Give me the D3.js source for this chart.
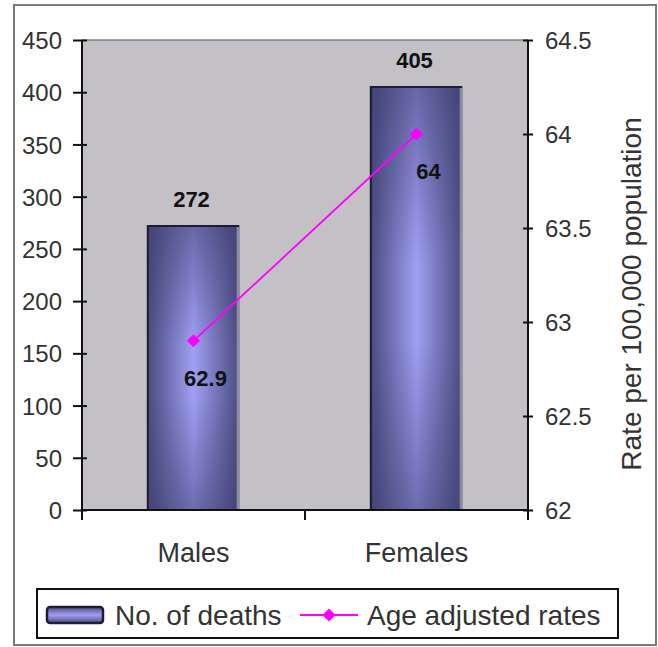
<!DOCTYPE html>
<html>
<head>
<meta charset="utf-8">
<script src="https://cdn.jsdelivr.net/npm/d3@7"></script>
<style>
  body { margin: 0; background: #fff; }
  text { font-family: "Liberation Sans", Arial, sans-serif; }
</style>
</head>
<body>
<script>
const categories = ['Males', 'Females'];
const deaths = [272, 405];
const rates = [62.9, 64];
const leftTicks = [0, 50, 100, 150, 200, 250, 300, 350, 400, 450];
const rightTicks = [62, 62.5, 63, 63.5, 64, 64.5];
const legendLabels = ['No. of deaths', 'Age adjusted rates'];

const w = 658, h = 647;
const plot = { left: 82, right: 528, top: 40, bottom: 510 };

const svg = d3.select('body').append('svg')
  .attr('width', w)
  .attr('height', h);

const defs = svg.append('defs');
const hg = defs.append('linearGradient').attr('id', 'barH')
  .attr('x1', 0).attr('x2', 1).attr('y1', 0).attr('y2', 0);
hg.append('stop').attr('offset', 0).attr('stop-color', '#4b4b80');
hg.append('stop').attr('offset', 0.5).attr('stop-color', '#a0a0f4');
hg.append('stop').attr('offset', 1).attr('stop-color', '#4b4b80');
const vg = defs.append('linearGradient').attr('id', 'barV')
  .attr('x1', 0).attr('x2', 0).attr('y1', 0).attr('y2', 1);
vg.append('stop').attr('offset', 0).attr('stop-color', '#3a3a6a').attr('stop-opacity', 0.55);
vg.append('stop').attr('offset', 0.42).attr('stop-color', '#3a3a6a').attr('stop-opacity', 0);
vg.append('stop').attr('offset', 0.6).attr('stop-color', '#3a3a6a').attr('stop-opacity', 0);
vg.append('stop').attr('offset', 1).attr('stop-color', '#3a3a6a').attr('stop-opacity', 0.5);

// outer frame
svg.append('rect')
  .attr('x', 14).attr('y', 5).attr('width', 642).attr('height', 640)
  .attr('fill', '#fff').attr('stroke', '#7a7a7a').attr('stroke-width', 2);

const x = d3.scaleBand()
  .domain(categories)
  .range([plot.left, plot.right])
  .paddingInner(0)
  .paddingOuter(0);

const barW = x.bandwidth() * 0.41;

const yL = d3.scaleLinear().domain([0, 450]).range([plot.bottom, plot.top]);
const yR = d3.scaleLinear().domain([62, 64.5]).range([plot.bottom, plot.top]);

// plot area
svg.append('rect')
  .attr('x', plot.left).attr('y', plot.top)
  .attr('width', plot.right - plot.left).attr('height', plot.bottom - plot.top)
  .attr('fill', '#c3c1c6');
svg.append('line')
  .attr('x1', plot.left).attr('x2', plot.right)
  .attr('y1', plot.top).attr('y2', plot.top)
  .attr('stroke', '#808080').attr('stroke-width', 1.5);

// bars
const bars = svg.selectAll('g.bar')
  .data(categories)
  .enter()
  .append('g')
  .attr('class', 'bar');

const bx = (d) => x(d) + (x.bandwidth() - barW) / 2;
const by = (d, i) => yL(deaths[i]);
const bh = (d, i) => yL(0) - yL(deaths[i]);

bars.append('rect')
  .attr('x', bx).attr('y', by).attr('width', barW).attr('height', bh)
  .attr('fill', 'url(#barH)');
bars.append('rect')
  .attr('x', bx).attr('y', by).attr('width', barW).attr('height', bh)
  .attr('fill', 'url(#barV)');
bars.append('line')
  .attr('x1', (d, i) => bx(d) + barW - 1).attr('x2', (d, i) => bx(d) + barW - 1)
  .attr('y1', by).attr('y2', yL(0))
  .attr('stroke', '#8c8ca4').attr('stroke-width', 3);
bars.append('path')
  .attr('d', (d, i) => `M${bx(d)},${yL(0)}V${yL(deaths[i])}H${bx(d) + barW}`)
  .attr('fill', 'none').attr('stroke', '#1c1c34').attr('stroke-width', 2);

bars.append('text')
  .attr('x', (d) => x(d) + x.bandwidth() / 2 - 2)
  .attr('y', (d, i) => yL(deaths[i]) - 19)
  .attr('text-anchor', 'middle')
  .attr('font-size', '22px').attr('font-weight', 'bold').attr('fill', '#111')
  .text((d, i) => deaths[i]);

// line
const cx = (d) => x(d) + x.bandwidth() / 2;
const line = d3.line()
  .x((d, i) => cx(categories[i]))
  .y((d) => yR(d));

svg.append('path')
  .datum(rates)
  .attr('d', line)
  .attr('fill', 'none').attr('stroke', '#ff00ff').attr('stroke-width', 1.8);

svg.selectAll('path.pt')
  .data(rates)
  .enter()
  .append('path')
  .attr('class', 'pt')
  .attr('d', d3.symbol(d3.symbolDiamond2, 110))
  .attr('transform', (d, i) => `translate(${cx(categories[i])},${yR(d)})`)
  .attr('fill', '#ff00ff');

svg.selectAll('text.rl')
  .data(rates)
  .enter()
  .append('text')
  .attr('class', 'rl')
  .attr('x', (d, i) => cx(categories[i]) + 12)
  .attr('y', (d) => yR(d) + 45)
  .attr('text-anchor', 'middle')
  .attr('font-size', '22px').attr('font-weight', 'bold').attr('fill', '#111')
  .text((d) => d);

// axes
const leftAxis = svg.append('g')
  .attr('transform', `translate(${plot.left},0)`)
  .call(d3.axisLeft(yL).tickValues(leftTicks).tickSize(9).tickPadding(10));
leftAxis.selectAll('.tick line').attr('x1', 5).attr('stroke', '#111').attr('stroke-width', 2);
leftAxis.selectAll('.tick text').attr('font-size', '24px').attr('fill', '#333').attr('x', -20).attr('dy', '0.36em');
leftAxis.select('.domain').attr('d', `M0,${plot.top}V${plot.bottom + 10}`).attr('stroke', '#111').attr('stroke-width', 2);

const rightAxis = svg.append('g')
  .attr('transform', `translate(${plot.right},0)`)
  .call(d3.axisRight(yR).tickValues(rightTicks).tickSize(5).tickFormat((d) => String(d)));
rightAxis.selectAll('.tick line').attr('x1', -5).attr('stroke', '#111').attr('stroke-width', 2);
rightAxis.selectAll('.tick text').attr('font-size', '24px').attr('fill', '#333').attr('x', 17).attr('dy', '0.36em');
rightAxis.select('.domain').attr('d', `M0,${plot.top}V${plot.bottom + 10}`).attr('stroke', '#111').attr('stroke-width', 2);

const bottom = svg.append('g');
bottom.append('line')
  .attr('x1', plot.left).attr('x2', plot.right)
  .attr('y1', plot.bottom).attr('y2', plot.bottom)
  .attr('stroke', '#111').attr('stroke-width', 2);
bottom.selectAll('line.ct')
  .data(categories.slice(1))
  .enter()
  .append('line')
  .attr('class', 'ct')
  .attr('x1', (d) => x(d)).attr('x2', (d) => x(d))
  .attr('y1', plot.bottom).attr('y2', plot.bottom + 10)
  .attr('stroke', '#111').attr('stroke-width', 2);
bottom.selectAll('text')
  .data(categories)
  .enter()
  .append('text')
  .attr('x', (d) => cx(d))
  .attr('y', plot.bottom + 52)
  .attr('text-anchor', 'middle')
  .attr('font-size', '27px').attr('fill', '#333')
  .text((d) => d);

// right axis title
svg.append('text')
  .attr('transform', 'translate(641,294) rotate(-90)')
  .attr('text-anchor', 'middle')
  .attr('font-size', '28px').attr('fill', '#333')
  .text('Rate per 100,000 population');

// legend
const legend = svg.append('g');
legend.append('rect')
  .attr('x', 37).attr('y', 589).attr('width', 581).attr('height', 49)
  .attr('fill', '#fff').attr('stroke', '#111').attr('stroke-width', 2);
const lg = defs.append('linearGradient').attr('id', 'legV')
  .attr('x1', 0).attr('x2', 0).attr('y1', 0).attr('y2', 1);
lg.append('stop').attr('offset', 0).attr('stop-color', '#4b4b80');
lg.append('stop').attr('offset', 0.5).attr('stop-color', '#a0a0f4');
lg.append('stop').attr('offset', 1).attr('stop-color', '#4b4b80');
legend.append('rect')
  .attr('x', 47).attr('y', 607).attr('width', 56).attr('height', 16)
  .attr('rx', 3)
  .attr('fill', 'url(#legV)').attr('stroke', '#1c1c34').attr('stroke-width', 2.5);
legend.append('text')
  .attr('x', 115).attr('y', 625)
  .attr('font-size', '28px').attr('fill', '#333')
  .text(legendLabels[0]);
legend.append('line')
  .attr('x1', 300).attr('x2', 358).attr('y1', 615).attr('y2', 615)
  .attr('stroke', '#ff00ff').attr('stroke-width', 1.8);
legend.append('path')
  .attr('d', d3.symbol(d3.symbolDiamond2, 110))
  .attr('transform', 'translate(329,615)')
  .attr('fill', '#ff00ff');
legend.append('text')
  .attr('x', 367).attr('y', 625)
  .attr('font-size', '28px').attr('fill', '#333')
  .text(legendLabels[1]);
</script>
</body>
</html>
